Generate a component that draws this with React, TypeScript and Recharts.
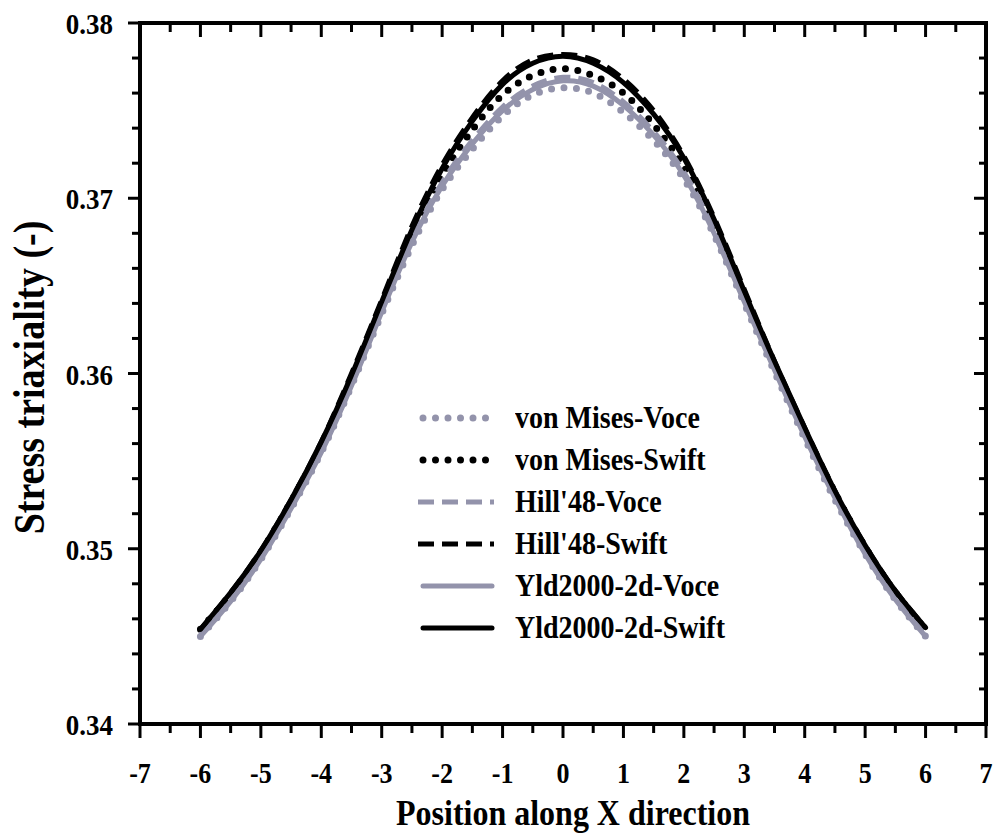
import React from 'react';
import { Legend, Line, LineChart, XAxis, YAxis } from 'recharts';

const positions = [-6, -5.5, -5, -4.5, -4, -3.5, -3, -2.5, -2, -1.5, -1, -0.5, 0, 0.5, 1, 1.5, 2, 2.5, 3, 3.5, 4, 4.5, 5, 5.5, 6];

const vmVoce = [0.3450, 0.3470, 0.3494, 0.3523, 0.3555, 0.3593, 0.3634, 0.3673, 0.3705, 0.3728, 0.3747, 0.3759, 0.3763, 0.3760, 0.3749, 0.3733, 0.3711, 0.3679, 0.3640, 0.3601, 0.3563, 0.3528, 0.3497, 0.3471, 0.3450];
const vmSwift = [0.3454, 0.3474, 0.3498, 0.3527, 0.3559, 0.3597, 0.3638, 0.3679, 0.3713, 0.3739, 0.3759, 0.3770, 0.3774, 0.3770, 0.3760, 0.3742, 0.3718, 0.3684, 0.3644, 0.3605, 0.3567, 0.3532, 0.3501, 0.3475, 0.3454];
const hillVoce = [0.3451, 0.3471, 0.3495, 0.3524, 0.3556, 0.3594, 0.3636, 0.3676, 0.3709, 0.3733, 0.3752, 0.3764, 0.3769, 0.3766, 0.3755, 0.3738, 0.3715, 0.3682, 0.3642, 0.3603, 0.3565, 0.3530, 0.3498, 0.3472, 0.3451];
const hillSwift = [0.3454, 0.3475, 0.3499, 0.3528, 0.3561, 0.3600, 0.3642, 0.3684, 0.3719, 0.3746, 0.3767, 0.3779, 0.3782, 0.3779, 0.3768, 0.3750, 0.3724, 0.3689, 0.3648, 0.3607, 0.3569, 0.3533, 0.3502, 0.3476, 0.3455];
const yldVoce = [0.3450, 0.3470, 0.3494, 0.3523, 0.3555, 0.3593, 0.3635, 0.3675, 0.3707, 0.3731, 0.3750, 0.3762, 0.3767, 0.3764, 0.3753, 0.3736, 0.3713, 0.3680, 0.3641, 0.3602, 0.3564, 0.3529, 0.3497, 0.3471, 0.3450];
const yldSwift = [0.3454, 0.3475, 0.3499, 0.3528, 0.3561, 0.3599, 0.3641, 0.3682, 0.3717, 0.3744, 0.3765, 0.3777, 0.3781, 0.3777, 0.3766, 0.3748, 0.3723, 0.3688, 0.3647, 0.3607, 0.3569, 0.3533, 0.3502, 0.3476, 0.3455];

const xTicks = [-7, -6.5, -6, -5.5, -5, -4.5, -4, -3.5, -3, -2.5, -2, -1.5, -1, -0.5, 0, 0.5, 1, 1.5, 2, 2.5, 3, 3.5, 4, 4.5, 5, 5.5, 6, 6.5, 7];
const yTicks = [0.34, 0.342, 0.344, 0.346, 0.348, 0.35, 0.352, 0.354, 0.356, 0.358, 0.36, 0.362, 0.364, 0.366, 0.368, 0.37, 0.372, 0.374, 0.376, 0.378, 0.38];

const GRAY = '#9393ab';
const FONT = "'Liberation Serif', 'Times New Roman', serif";

const series = [
  { key: 'vmVoce', name: 'von Mises-Voce', color: GRAY, width: 7, dash: '0 12.5', cap: 'round' },
  { key: 'vmSwift', name: 'von Mises-Swift', color: '#000', width: 7, dash: '0 12.5', cap: 'round' },
  { key: 'hillVoce', name: "Hill'48-Voce", color: GRAY, width: 5, dash: '16 8', cap: 'butt' },
  { key: 'hillSwift', name: "Hill'48-Swift", color: '#000', width: 5, dash: '16 8', cap: 'butt' },
  { key: 'yldVoce', name: 'Yld2000-2d-Voce', color: GRAY, width: 5, dash: undefined, cap: 'round' },
  { key: 'yldSwift', name: 'Yld2000-2d-Swift', color: '#000', width: 5, dash: undefined, cap: 'round' },
];

const rows = positions.map((x, i) => ({
  x,
  vmVoce: vmVoce[i],
  vmSwift: vmSwift[i],
  hillVoce: hillVoce[i],
  hillSwift: hillSwift[i],
  yldVoce: yldVoce[i],
  yldSwift: yldSwift[i],
}));

const isInt = (v: number) => Math.abs(v - Math.round(v)) < 1e-6;
const isMajorY = (v: number) => Math.abs(v * 100 - Math.round(v * 100)) < 1e-6;

const BottomTick = (props: any) => {
  const { x, y, payload } = props;
  const major = isInt(payload.value);
  return (
    <g>
      <line x1={x} x2={x} y1={y} y2={y + (major ? 14 : 9)} stroke="#000" strokeWidth={3} />
      {major && (
        <text
          transform={`translate(${x}, ${y + 59}) scale(1, 1.1)`}
          textAnchor="middle"
          fontFamily={FONT}
          fontWeight="bold"
          fontSize={26}
          fill="#000"
        >
          {payload.value}
        </text>
      )}
    </g>
  );
};

const TopTick = (props: any) => {
  const { x, y, payload } = props;
  const major = isInt(payload.value);
  return <line x1={x} x2={x} y1={y} y2={y + (major ? 14 : 9)} stroke="#000" strokeWidth={3} />;
};

const LeftTick = (props: any) => {
  const { x, y, payload } = props;
  const major = isMajorY(payload.value);
  return (
    <g>
      <line x1={x - (major ? 12 : 8)} x2={x} y1={y} y2={y} stroke="#000" strokeWidth={3} />
      {major && (
        <text
          transform={`translate(${x - 27}, ${y + 11}) scale(1, 1.12)`}
          textAnchor="end"
          fontFamily={FONT}
          fontWeight="bold"
          fontSize={27}
          fill="#000"
        >
          {payload.value.toFixed(2)}
        </text>
      )}
    </g>
  );
};

const RightTick = (props: any) => {
  const { x, y, payload } = props;
  const major = isMajorY(payload.value);
  return <line x1={x - (major ? 12 : 7)} x2={x} y1={y} y2={y} stroke="#000" strokeWidth={3} />;
};

const LegendBox = () => (
  <div style={{ fontFamily: FONT, fontWeight: 'bold', fontSize: 28, color: '#000' }}>
    {series.map((s) => (
      <div key={s.key} style={{ display: 'flex', alignItems: 'center', height: 42 }}>
        <svg width={103} height={14} style={{ flex: 'none' }}>
          <line
            x1={s.dash === '16 8' ? 6 : 11}
            x2={s.dash === '16 8' ? 82 : s.dash ? 75 : 80}
            y1={7}
            y2={7}
            stroke={s.color}
            strokeWidth={s.dash === '0 12.5' ? 7 : 5}
            strokeDasharray={s.dash}
            strokeLinecap={s.cap as any}
          />
        </svg>
        <span style={{ whiteSpace: 'nowrap', lineHeight: '42px', display: 'inline-block', transform: 'scaleY(1.1)' }}>
          {s.name}
        </span>
      </div>
    ))}
  </div>
);

const axisStyle = { stroke: '#000', strokeWidth: 4, strokeLinecap: 'square' as const };

export default function App() {
  return (
    <div style={{ position: 'absolute', left: 0, top: 0, background: '#fff' }}>
      <style>{`body{margin:0}`}</style>
      <LineChart width={997} height={834} data={rows} margin={{ top: 22, right: 10, bottom: 0, left: 0 }}>
        <XAxis
          dataKey="x"
          type="number"
          domain={[-7, 7]}
          ticks={xTicks}
          interval={0}
          allowDataOverflow
          height={110}
          tickSize={0}
          tickMargin={0}
          tickLine={false}
          axisLine={axisStyle}
          tick={<BottomTick />}
          label={{
            content: (p: any) => (
              <text
                transform={`translate(${p.viewBox.x + p.viewBox.width / 2 + 10}, 825) scale(1, 1.15)`}
                textAnchor="middle"
                fontFamily={FONT}
                fontWeight="bold"
                fontSize={32}
                fill="#000"
              >
                Position along X direction
              </text>
            ),
          }}
        />
        <XAxis
          xAxisId="top"
          orientation="top"
          dataKey="x"
          type="number"
          domain={[-7, 7]}
          ticks={xTicks}
          interval={0}
          allowDataOverflow
          height={1}
          tickSize={0}
          tickMargin={0}
          tickLine={false}
          axisLine={axisStyle}
          tick={<TopTick />}
        />
        <YAxis
          type="number"
          domain={[0.34, 0.38]}
          ticks={yTicks}
          interval={0}
          allowDataOverflow
          width={140}
          tickSize={0}
          tickMargin={0}
          tickLine={false}
          axisLine={axisStyle}
          tick={<LeftTick />}
          label={{
            content: (p: any) => {
              const cy = p.viewBox.y + p.viewBox.height / 2 + 4;
              return (
                <text
                  transform={`translate(44, ${cy}) rotate(-90) scale(1, 1.18)`}
                  textAnchor="middle"
                  fontFamily={FONT}
                  fontWeight="bold"
                  fontSize={38}
                  fill="#000"
                >
                  Stress triaxiality (-)
                </text>
              );
            },
          }}
        />
        <YAxis
          yAxisId="right"
          orientation="right"
          type="number"
          domain={[0.34, 0.38]}
          ticks={yTicks}
          interval={0}
          allowDataOverflow
          width={1}
          tickSize={0}
          tickMargin={0}
          tickLine={false}
          axisLine={axisStyle}
          tick={<RightTick />}
        />
        <Legend
          layout="vertical"
          align="center"
          verticalAlign="middle"
          content={<LegendBox />}
          wrapperStyle={{ position: 'absolute', left: 412, top: 397, width: 320 }}
        />
        {series.map((s) => (
          <Line
            key={s.key}
            dataKey={s.key}
            name={s.name}
            type="natural"
            stroke={s.color}
            strokeWidth={s.width}
            strokeDasharray={s.dash}
            strokeLinecap={s.cap as any}
            dot={false}
            activeDot={false}
            isAnimationActive={false}
          />
        ))}
      </LineChart>
    </div>
  );
}
